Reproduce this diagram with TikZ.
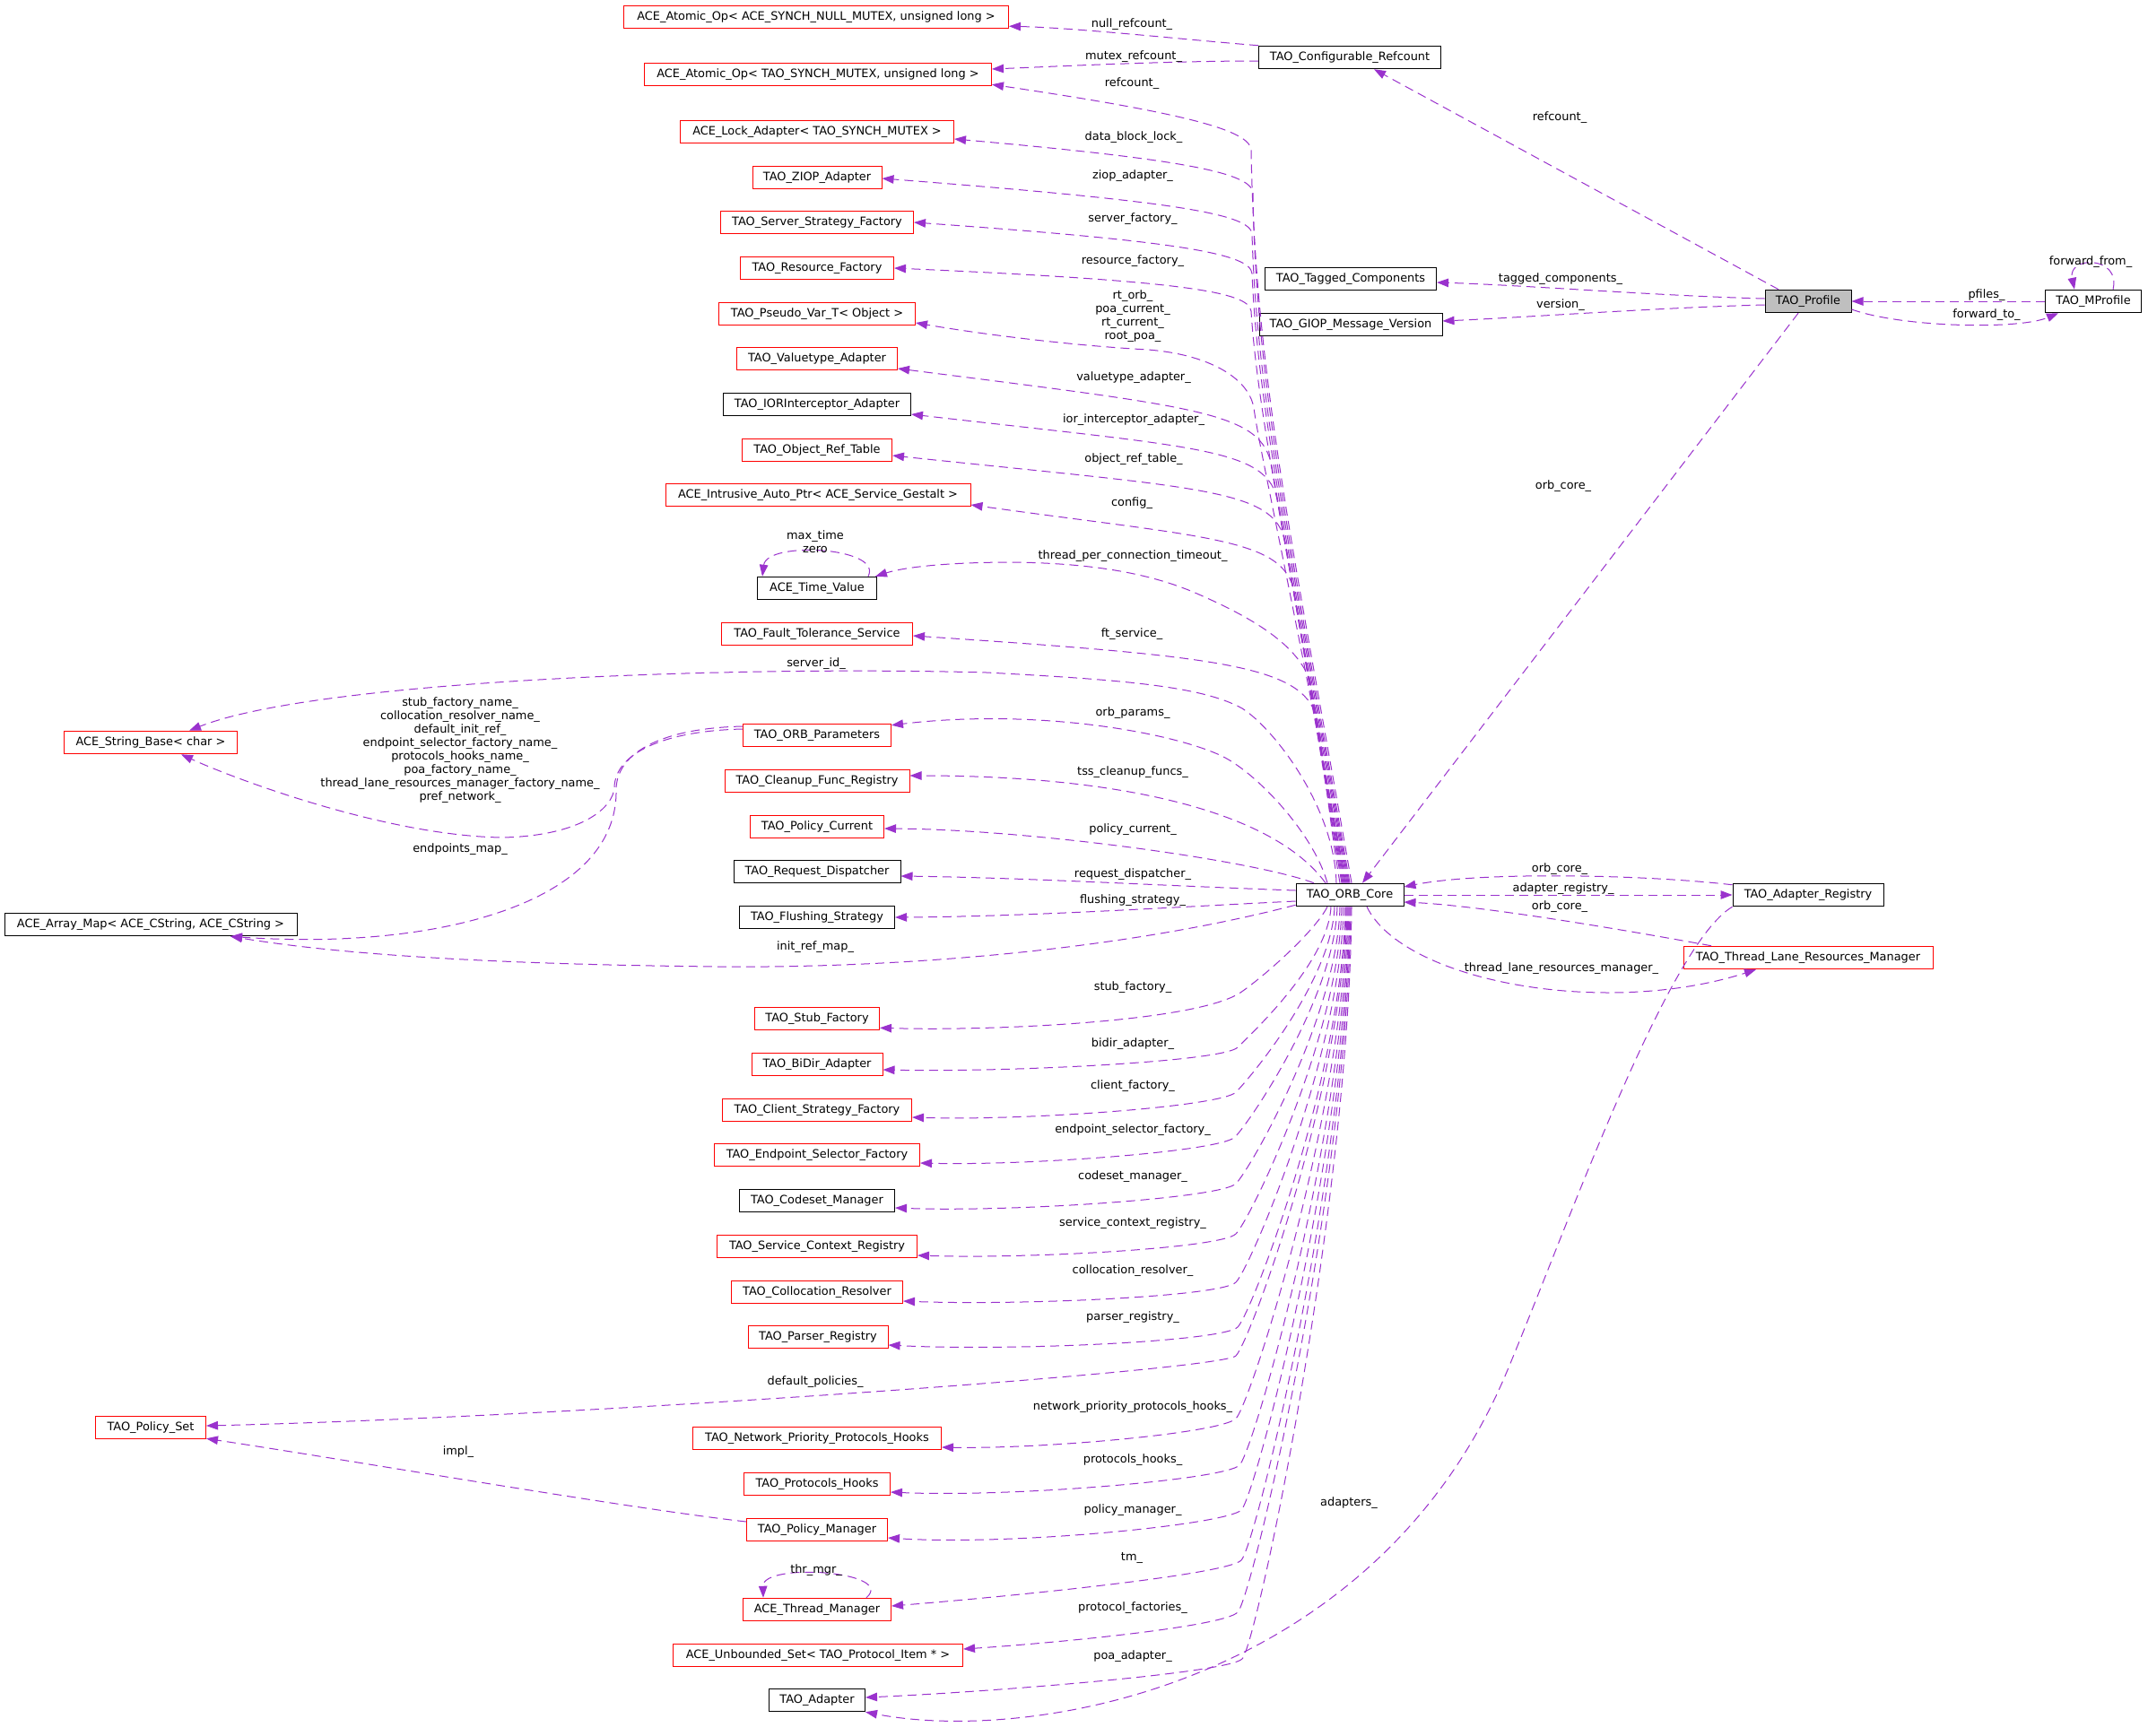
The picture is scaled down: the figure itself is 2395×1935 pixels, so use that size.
\documentclass[tikz,border=0pt]{standalone}
\usepackage{fontspec}
\setmainfont{DejaVu Sans}
\usetikzlibrary{arrows.meta}
\definecolor{edgec}{RGB}{154,50,205}
\definecolor{boxred}{RGB}{255,0,0}
\definecolor{profgray}{RGB}{191,191,191}
\begin{document}
\begin{tikzpicture}[x=1pt,y=-1pt,
  cls/.style={draw, line width=1pt, minimum height=25.5pt, inner sep=0pt,
    font=\fontsize{12.9pt}{15pt}\selectfont, text height=9.5pt, text depth=3pt, fill=white},
  redc/.style={cls, draw=boxred},
  blkc/.style={cls, draw=black},
  dep/.style={draw=edgec, line width=1pt, dash pattern=on 10pt off 6pt,
    -{Triangle[length=13pt,width=9.5pt]}},
  lbl/.style={font=\fontsize{12.9pt}{15pt}\selectfont, inner sep=0pt, align=center}]
\fill[white] (0,0) rectangle (2395,1935);
\useasboundingbox (0,0) rectangle (2395,1935);
% ---------------- nodes: left column
\node[redc, minimum width=429pt] (atomicnull) at (910,19) {ACE\_Atomic\_Op< ACE\_SYNCH\_NULL\_MUTEX, unsigned long >};
\node[redc, minimum width=387pt] (atomicmutex) at (912,83) {ACE\_Atomic\_Op< TAO\_SYNCH\_MUTEX, unsigned long >};
\node[redc, minimum width=305pt] (lockadapter) at (911,147) {ACE\_Lock\_Adapter< TAO\_SYNCH\_MUTEX >};
\node[redc, minimum width=144pt] (ziop) at (911,198) {TAO\_ZIOP\_Adapter};
\node[redc, minimum width=215pt] (serverstrat) at (911,248) {TAO\_Server\_Strategy\_Factory};
\node[redc, minimum width=171pt] (resource) at (911,299) {TAO\_Resource\_Factory};
\node[redc, minimum width=219pt] (pseudovar) at (911,350) {TAO\_Pseudo\_Var\_T< Object >};
\node[redc, minimum width=179pt] (valuetype) at (911,400) {TAO\_Valuetype\_Adapter};
\node[blkc, minimum width=209pt] (iorint) at (911,451) {TAO\_IORInterceptor\_Adapter};
\node[redc, minimum width=167pt] (objref) at (911,502) {TAO\_Object\_Ref\_Table};
\node[redc, minimum width=340pt] (intrusive) at (912,552) {ACE\_Intrusive\_Auto\_Ptr< ACE\_Service\_Gestalt >};
\node[blkc, minimum width=133pt] (timevalue) at (911,656) {ACE\_Time\_Value};
\node[redc, minimum width=213pt] (faulttol) at (911,707) {TAO\_Fault\_Tolerance\_Service};
\node[redc, minimum width=165pt] (orbparams) at (911,820) {TAO\_ORB\_Parameters};
\node[redc, minimum width=206pt] (cleanup) at (911,871) {TAO\_Cleanup\_Func\_Registry};
\node[redc, minimum width=149pt] (policycur) at (911,922) {TAO\_Policy\_Current};
\node[blkc, minimum width=186pt] (reqdisp) at (911,972) {TAO\_Request\_Dispatcher};
\node[blkc, minimum width=173pt] (flushing) at (911,1023) {TAO\_Flushing\_Strategy};
\node[redc, minimum width=139pt] (stubfac) at (911,1136) {TAO\_Stub\_Factory};
\node[redc, minimum width=146pt] (bidir) at (911,1187) {TAO\_BiDir\_Adapter};
\node[redc, minimum width=211pt] (clientstrat) at (911,1238) {TAO\_Client\_Strategy\_Factory};
\node[redc, minimum width=229pt] (endpoint) at (911,1288) {TAO\_Endpoint\_Selector\_Factory};
\node[blkc, minimum width=173pt] (codeset) at (911,1339) {TAO\_Codeset\_Manager};
\node[redc, minimum width=223pt] (servicectx) at (911,1390) {TAO\_Service\_Context\_Registry};
\node[redc, minimum width=191pt] (colloc) at (911,1441) {TAO\_Collocation\_Resolver};
\node[redc, minimum width=156pt] (parser) at (912,1491) {TAO\_Parser\_Registry};
\node[redc, minimum width=277pt] (netprio) at (911,1604) {TAO\_Network\_Priority\_Protocols\_Hooks};
\node[redc, minimum width=163pt] (protohooks) at (911,1655) {TAO\_Protocols\_Hooks};
\node[redc, minimum width=157pt] (policymgr) at (911,1706) {TAO\_Policy\_Manager};
\node[redc, minimum width=165pt] (threadmgr) at (911,1795) {ACE\_Thread\_Manager};
\node[redc, minimum width=323pt] (unbounded) at (912,1846) {ACE\_Unbounded\_Set< TAO\_Protocol\_Item * >};
\node[blkc, minimum width=107pt] (adapter) at (911,1896) {TAO\_Adapter};
% far left
\node[redc, minimum width=193pt] (stringbase) at (168,828) {ACE\_String\_Base< char >};
\node[blkc, minimum width=326pt] (arraymap) at (168,1031) {ACE\_Array\_Map< ACE\_CString, ACE\_CString >};
\node[redc, minimum width=123pt] (policyset) at (168,1592) {TAO\_Policy\_Set};
% right
\node[blkc, minimum width=203pt] (configref) at (1505,64) {TAO\_Configurable\_Refcount};
\node[blkc, minimum width=191pt] (tagged) at (1506,311) {TAO\_Tagged\_Components};
\node[blkc, minimum width=204pt] (giop) at (1506,362) {TAO\_GIOP\_Message\_Version};
\node[blkc, minimum width=120pt] (orb) at (1505,998) {TAO\_ORB\_Core};
\node[blkc, minimum width=96pt, fill=profgray] (profile) at (2016,336) {TAO\_Profile};
\node[blkc, minimum width=107pt] (mprofile) at (2334,336) {TAO\_MProfile};
\node[blkc, minimum width=168pt] (adapterreg) at (2016,998) {TAO\_Adapter\_Registry};
\node[redc, minimum width=278pt] (threadlane) at (2016,1068) {TAO\_Thread\_Lane\_Resources\_Manager};
% ---------------- edges from TAO_ORB_Core (upper)
\draw[dep] ([xshift=2pt]orb.north) .. controls (1442,611) and (1399,417) .. (1395,167) .. controls (1393,145) and (1320,126) .. ([yshift=2pt]atomicmutex.south east);
\draw[dep] ([xshift=0pt]orb.north) .. controls (1440,611) and (1400,430) .. (1397,215) .. controls (1395,193) and (1323,178) .. ([yshift=-8pt]lockadapter.east);
\draw[dep] ([xshift=-1pt]orb.north) .. controls (1439,615) and (1401,440) .. (1396,261) .. controls (1394,239) and (1317,225) .. ([yshift=-1pt]ziop.east);
\draw[dep] ([xshift=-2pt]orb.north) .. controls (1438,620) and (1402,450) .. (1396,305) .. controls (1394,283) and (1315,269) .. (serverstrat.east);
\draw[dep] ([xshift=-3pt]orb.north) .. controls (1437,625) and (1402,460) .. (1395,347) .. controls (1393,325) and (1313,313) .. (resource.east);
\draw[dep] ([xshift=-4pt]orb.north) .. controls (1436,640) and (1404,500) .. (1398,455) .. controls (1392,420) and (1345,395) .. (1280,390) .. controls (1190,385) and (1090,372) .. ([yshift=-10pt]pseudovar.east);
\draw[dep] ([xshift=-5pt]orb.north) .. controls (1471,825) and (1425,560) .. (1418,520) .. controls (1406,460) and (1345,455) .. ([yshift=-11pt]valuetype.east);
\draw[dep] ([xshift=-6pt]orb.north) .. controls (1473,838) and (1432,600) .. (1425,560) .. controls (1413,500) and (1345,500) .. ([yshift=-11pt]iorint.east);
\draw[dep] ([xshift=-7pt]orb.north) .. controls (1475,854) and (1440,645) .. (1433,605) .. controls (1421,545) and (1345,545) .. ([yshift=-6pt]objref.east);
\draw[dep] ([xshift=-8pt]orb.north) .. controls (1477,873) and (1450,700) .. (1443,660) .. controls (1431,600) and (1348,600) .. ([yshift=-11pt]intrusive.east);
\draw[dep] ([xshift=-9pt]orb.north) .. controls (1482,907) and (1468,800) .. (1461,760) .. controls (1447,720) and (1400,690) .. (1330,660) .. controls (1270,635) and (1200,628) .. (1130,627) .. controls (1060,627) and (1010,632) .. ([xshift=-2pt]timevalue.north east);
\draw[dep] ([xshift=-11pt]orb.north) .. controls (1483,921) and (1474,830) .. (1468,800) .. controls (1452,742) and (1360,732) .. ([yshift=-2pt]faulttol.east);
\draw[dep] ([xshift=-15pt]orb.north) .. controls (1488,900) and (1420,812) .. (1385,790) .. controls (1340,765) and (1250,758) .. (1100,750) .. controls (800,742) and (350,760) .. ([xshift=43pt]stringbase.north);
\draw[dep] ([xshift=-25pt]orb.north) .. controls (1465,930) and (1400,860) .. (1360,842) .. controls (1300,815) and (1150,790) .. ([yshift=-2pt]orbparams.north east);
\draw[dep] ([xshift=-27pt]orb.north) .. controls (1420,905) and (1250,865) .. ([yshift=6pt]cleanup.east);
\draw[dep] ([xshift=-40pt]orb.north) .. controls (1400,960) and (1150,925) .. ([yshift=-2pt]policycur.east);
\draw[dep] ([yshift=5pt]orb.west) .. controls (1300,988) and (1150,979) .. ([yshift=-5pt]reqdisp.east);
\draw[dep] ([yshift=-7pt]orb.west) .. controls (1300,1012) and (1150,1022) .. (flushing.east);
\draw[dep] ([yshift=2pt]orb.south west) .. controls (1250,1060) and (1000,1080) .. (800,1078) .. controls (600,1076) and (400,1068) .. ([xshift=89pt]arraymap.south);
% ---------------- edges from TAO_ORB_Core (lower)
\draw[dep] ([xshift=-25pt]orb.south) .. controls (1465,1040) and (1408,1090) .. (1383,1107) .. controls (1333,1140) and (1101,1150) .. ([yshift=3pt]stubfac.south east);
\draw[dep] ([xshift=-21pt]orb.south) .. controls (1481,1073) and (1396,1152) .. (1380,1168) .. controls (1364,1184) and (1123,1196) .. ([yshift=-6pt]bidir.east);
\draw[dep] ([xshift=-17pt]orb.south) .. controls (1485,1093) and (1394,1202) .. (1378,1218) .. controls (1362,1234) and (1143,1250) .. ([yshift=-8pt]clientstrat.east);
\draw[dep] ([xshift=-14pt]orb.south) .. controls (1488,1113) and (1393,1252) .. (1377,1268) .. controls (1361,1284) and (1149,1300) .. ([yshift=-9pt]endpoint.east);
\draw[dep] ([xshift=-11pt]orb.south) .. controls (1491,1134) and (1394,1304) .. (1378,1320) .. controls (1362,1336) and (1131,1352) .. ([yshift=-8pt]codeset.east);
\draw[dep] ([xshift=-9pt]orb.south) .. controls (1493,1156) and (1394,1360) .. (1378,1376) .. controls (1362,1392) and (1147,1404) .. ([yshift=-10pt]servicectx.east);
\draw[dep] ([xshift=-7pt]orb.south) .. controls (1495,1178) and (1394,1414) .. (1378,1430) .. controls (1362,1446) and (1137,1456) .. ([yshift=-10pt]colloc.east);
\draw[dep] ([xshift=-5pt]orb.south) .. controls (1497,1198) and (1396,1464) .. (1380,1480) .. controls (1364,1496) and (1127,1507) .. ([yshift=-9pt]parser.east);
\draw[dep] ([xshift=-4pt]orb.south) .. controls (1498,1211) and (1394,1496) .. (1378,1512) .. controls (1362,1528) and (650,1580) .. ([yshift=2pt]policyset.east);
\draw[dep] ([xshift=-3pt]orb.south) .. controls (1499,1239) and (1394,1566) .. (1378,1582) .. controls (1362,1598) and (1165,1616) .. ([yshift=-10pt]netprio.east);
\draw[dep] ([xshift=-2pt]orb.south) .. controls (1500,1260) and (1398,1618) .. (1382,1634) .. controls (1366,1650) and (1129,1670) .. ([yshift=-9pt]protohooks.east);
\draw[dep] ([xshift=-1pt]orb.south) .. controls (1501,1280) and (1400,1668) .. (1384,1684) .. controls (1368,1700) and (1130,1724) .. ([yshift=-9pt]policymgr.east);
\draw[dep] ([xshift=0pt]orb.south) .. controls (1502,1302) and (1400,1724) .. (1384,1740) .. controls (1368,1756) and (1130,1780) .. ([yshift=4pt]threadmgr.east);
\draw[dep] ([xshift=1pt]orb.south) .. controls (1503,1325) and (1396,1782) .. (1380,1798) .. controls (1364,1814) and (1180,1832) .. ([yshift=7pt]unbounded.east);
\draw[dep] ([xshift=2pt]orb.south) .. controls (1504,1346) and (1401,1834) .. (1385,1850) .. controls (1369,1866) and (1100,1887) .. ([yshift=3pt]adapter.east);
% ---------------- other edges
\draw[dep] (configref.north west) .. controls (1330,45) and (1200,31) .. ([yshift=3pt]atomicnull.south east);
\draw[dep] ([yshift=-4pt]configref.west) .. controls (1300,68) and (1180,74) .. ([yshift=6pt]atomicmutex.east);
\draw[dep] ([xshift=-33pt]profile.north) -- ([xshift=27pt]configref.south);
\draw[dep] ([yshift=3pt]profile.west) .. controls (1850,330) and (1700,318) .. ([yshift=-4pt]tagged.east);
\draw[dep] ([yshift=-4pt]profile.west) .. controls (1850,343) and (1700,354) .. ([yshift=4pt]giop.east);
\draw[dep] ([xshift=-11pt]profile.south) -- ([xshift=14pt]orb.north);
\draw[dep] (mprofile.west) -- (profile.east);
\draw[dep] ([yshift=-9pt]profile.east) .. controls (2120,365) and (2250,368) .. ([xshift=15pt]mprofile.south west);
\draw[dep] ([xshift=22pt]mprofile.north) .. controls (2365,285) and (2305,285) .. ([xshift=-21pt]mprofile.north);
\draw[dep] ([yshift=-2pt]adapterreg.north west) .. controls (1830,975) and (1650,972) .. ([yshift=9pt]orb.east);
\draw[dep] (orb.east) -- (adapterreg.west);
\draw[dep] ([xshift=-108pt]threadlane.north) .. controls (1800,1035) and (1650,1010) .. ([yshift=-8pt]orb.east);
\draw[dep] ([xshift=19pt]orb.south) .. controls (1565,1095) and (1790,1135) .. ([xshift=-58pt]threadlane.south);
\draw[dep] (adapterreg.south west) .. controls (1858,1055) and (1743,1380) .. (1680,1530) .. controls (1533,1880) and (1150,1945) .. (adapter.south east);
\draw[dep] ([yshift=7pt]orbparams.west) .. controls (740,815) and (686,840) .. (685,878) .. controls (684,900) and (650,932) .. (560,934) .. controls (430,932) and (260,868) .. ([xshift=34pt]stringbase.south);
\draw[dep] ([yshift=10pt]orbparams.west) .. controls (740,812) and (688,838) .. (687,880) .. controls (690,1010) and (480,1060) .. ([xshift=89pt]arraymap.south);
\draw[dep] ([yshift=9pt]policymgr.west) .. controls (700,1682) and (400,1630) .. ([yshift=1pt]policyset.south east);
\draw[dep] ([xshift=-10pt]timevalue.north east) .. controls (985,610) and (855,603) .. ([xshift=6pt]timevalue.north west);
\draw[dep] ([xshift=-28pt]threadmgr.north east) .. controls (1000,1752) and (850,1742) .. ([xshift=23pt]threadmgr.north west);
% ---------------- labels
\node[lbl] (l1) at (1262,27) {null\_refcount\_};
\node[lbl] (l2) at (1264,63) {mutex\_refcount\_};
\node[lbl] (l3) at (1262,93) {refcount\_};
\node[lbl] (l4) at (1264,153) {data\_block\_lock\_};
\node[lbl] (l5) at (1263,196) {ziop\_adapter\_};
\node[lbl] (l6) at (1263,244) {server\_factory\_};
\node[lbl] (l7) at (1263,291) {resource\_factory\_};
\node[lbl] (l8) at (1263,353) {rt\_orb\_\\poa\_current\_\\rt\_current\_\\root\_poa\_};
\node[lbl] (l9) at (1264,421) {valuetype\_adapter\_};
\node[lbl] (l10) at (1264,468) {ior\_interceptor\_adapter\_};
\node[lbl] (l11) at (1264,512) {object\_ref\_table\_};
\node[lbl] (l12) at (1262,561) {config\_};
\node[lbl] (l13) at (909,604.5) {max\_time\\zero};
\node[lbl] (l14) at (1263,620) {thread\_per\_connection\_timeout\_};
\node[lbl] (l15) at (1262,707) {ft\_service\_};
\node[lbl] (l16) at (910,740) {server\_id\_};
\node[lbl] (l17) at (1263,795) {orb\_params\_};
\node[lbl] (l18) at (513,836.5) {stub\_factory\_name\_\\collocation\_resolver\_name\_\\default\_init\_ref\_\\endpoint\_selector\_factory\_name\_\\protocols\_hooks\_name\_\\poa\_factory\_name\_\\thread\_lane\_resources\_manager\_factory\_name\_\\pref\_network\_};
\node[lbl] (l19) at (513,947) {endpoints\_map\_};
\node[lbl] (l20) at (1263,861) {tss\_cleanup\_funcs\_};
\node[lbl] (l21) at (1263,925) {policy\_current\_};
\node[lbl] (l22) at (1263,975) {request\_dispatcher\_};
\node[lbl] (l23) at (1263,1004) {flushing\_strategy\_};
\node[lbl] (l24) at (909,1056) {init\_ref\_map\_};
\node[lbl] (l25) at (1263,1101) {stub\_factory\_};
\node[lbl] (l26) at (1263,1164) {bidir\_adapter\_};
\node[lbl] (l27) at (1263,1211) {client\_factory\_};
\node[lbl] (l28) at (1263,1260) {endpoint\_selector\_factory\_};
\node[lbl] (l29) at (1263,1312) {codeset\_manager\_};
\node[lbl] (l30) at (1263,1364) {service\_context\_registry\_};
\node[lbl] (l31) at (1263,1417) {collocation\_resolver\_};
\node[lbl] (l32) at (1263,1469) {parser\_registry\_};
\node[lbl] (l33) at (909,1541) {default\_policies\_};
\node[lbl] (l34) at (1263,1569) {network\_priority\_protocols\_hooks\_};
\node[lbl] (l35) at (1263,1628) {protocols\_hooks\_};
\node[lbl] (l36) at (1263,1684) {policy\_manager\_};
\node[lbl] (l37) at (1262,1737) {tm\_};
\node[lbl] (l38) at (910,1751) {thr\_mgr\_};
\node[lbl] (l39) at (1263,1793) {protocol\_factories\_};
\node[lbl] (l40) at (1263,1847) {poa\_adapter\_};
\node[lbl] (l41) at (1504,1676) {adapters\_};
\node[lbl] (l42) at (511,1619) {impl\_};
\node[lbl] (l43) at (1739,131) {refcount\_};
\node[lbl] (l44) at (1740,311) {tagged\_components\_};
\node[lbl] (l45) at (1740,340) {version\_};
\node[lbl] (l46) at (2215,329) {pfiles\_};
\node[lbl] (l47) at (2215,351) {forward\_to\_};
\node[lbl] (l48) at (2331,292) {forward\_from\_};
\node[lbl] (l49) at (1743,542) {orb\_core\_};
\node[lbl] (l50) at (1739,969) {orb\_core\_};
\node[lbl] (l51) at (1743,991) {adapter\_registry\_};
\node[lbl] (l52) at (1739,1011) {orb\_core\_};
\node[lbl] (l53) at (1741,1080) {thread\_lane\_resources\_manager\_};
\end{tikzpicture}
\end{document}
